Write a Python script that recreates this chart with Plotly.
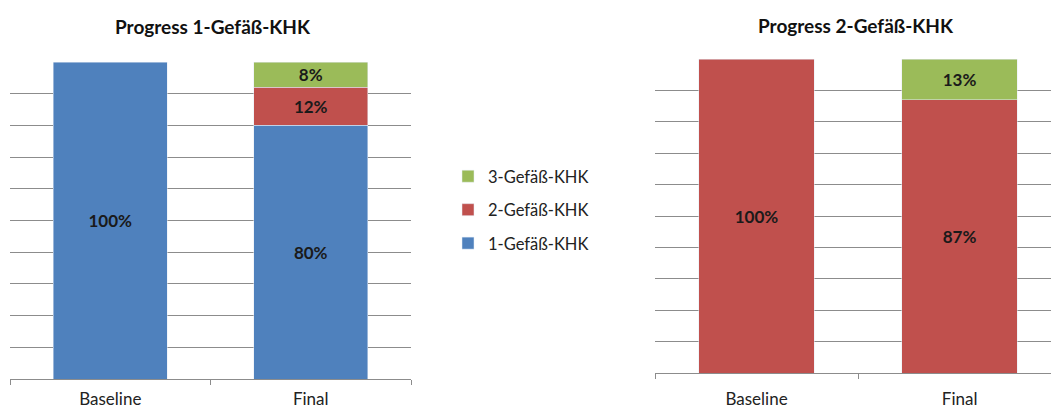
import plotly.graph_objects as go

W, H = 1051, 408

# Data
categories = ["Baseline", "Final"]
series_names = ["1-Gefäß-KHK", "2-Gefäß-KHK", "3-Gefäß-KHK"]
colors = ["#4F81BD", "#C0504D", "#9BBB59"]
legend_rank = [3, 2, 1]

# Progress from 1-vessel disease (percent of patients)
left_vals = {
    "1-Gefäß-KHK": [100, 80],
    "2-Gefäß-KHK": [None, 12],
    "3-Gefäß-KHK": [None, 8],
}
# Progress from 2-vessel disease
right_vals = {
    "2-Gefäß-KHK": [100, 87],
    "3-Gefäß-KHK": [None, 13],
}
titles = ["Progress 1-Gefäß-KHK", "Progress 2-Gefäß-KHK"]

FONT = "Lato, 'Open Sans', sans-serif"
GRID = "#8C8C8C"
TEXT = "#1A1A1A"


def px_x(x):
    return x / W


def px_y(y):
    return 1 - y / H


fig = go.Figure()

for name, color, rank in zip(series_names, colors, legend_rank):
    fig.add_trace(go.Bar(
        x=categories, y=left_vals[name], name=name, marker_color=color,
        xaxis="x", yaxis="y", legendgroup=name, legendrank=rank,
        showlegend=True,
        texttemplate="<b>%{y}%</b>", textposition="inside",
        insidetextanchor="middle", constraintext="none",
        textfont=dict(family=FONT, size=17, color=TEXT),
        hoverinfo="skip",
    ))

for name, color in zip(series_names, colors):
    if name not in right_vals:
        continue
    fig.add_trace(go.Bar(
        x=categories, y=right_vals[name], name=name, marker_color=color,
        xaxis="x2", yaxis="y2", legendgroup=name, showlegend=False,
        texttemplate="<b>%{y}%</b>", textposition="inside",
        insidetextanchor="middle", constraintext="none",
        textfont=dict(family=FONT, size=17, color=TEXT),
        hoverinfo="skip",
    ))

xaxis_common = dict(
    type="category", tickson="boundaries", ticks="outside", ticklen=5,
    tickcolor=GRID, showline=True, linecolor=GRID, linewidth=1,
    showgrid=False, tickfont=dict(family=FONT, size=17, color="#222222"),
    fixedrange=True, automargin=False,
)
yaxis_common = dict(
    range=[0, 100], dtick=10, showgrid=True, gridcolor=GRID, gridwidth=1,
    showticklabels=False, ticks="", showline=False, zeroline=False,
    fixedrange=True, automargin=False,
)

fig.update_layout(
    width=W, height=H,
    margin=dict(l=0, r=0, t=0, b=0, autoexpand=False),
    paper_bgcolor="white", plot_bgcolor="white",
    barmode="stack", bargap=0.43,
    font=dict(family=FONT, color="#222222"),
    xaxis=dict(**xaxis_common, domain=[px_x(10), px_x(411)], range=[-0.5, 1.5],
               ticklabelstandoff=5),
    yaxis=dict(**yaxis_common, domain=[px_y(379), px_y(62)], anchor="x"),
    xaxis2=dict(**xaxis_common, domain=[px_x(655), 1.0], range=[-0.5, 1.45],
                anchor="y2", ticklabelstandoff=11),
    yaxis2=dict(**yaxis_common, domain=[px_y(373), px_y(59)], anchor="x2"),
    legend=dict(
        x=px_x(448), y=px_y(159), xanchor="left", yanchor="top",
        traceorder="grouped", tracegroupgap=9,
        font=dict(family=FONT, size=16.5, color="#222222"),
        bgcolor="rgba(0,0,0,0)", itemwidth=30,
    ),
    showlegend=True,
)

fig.add_annotation(text="<b>" + titles[0] + "</b>", xref="paper", yref="paper",
                   x=px_x(213), y=px_y(27), xanchor="center", yanchor="middle",
                   showarrow=False,
                   font=dict(family=FONT, size=19, color="#111111"))
fig.add_annotation(text="<b>" + titles[1] + "</b>", xref="paper", yref="paper",
                   x=px_x(856), y=px_y(25), xanchor="center", yanchor="middle",
                   showarrow=False,
                   font=dict(family=FONT, size=19, color="#111111"))

fig.write_html("out.html")
